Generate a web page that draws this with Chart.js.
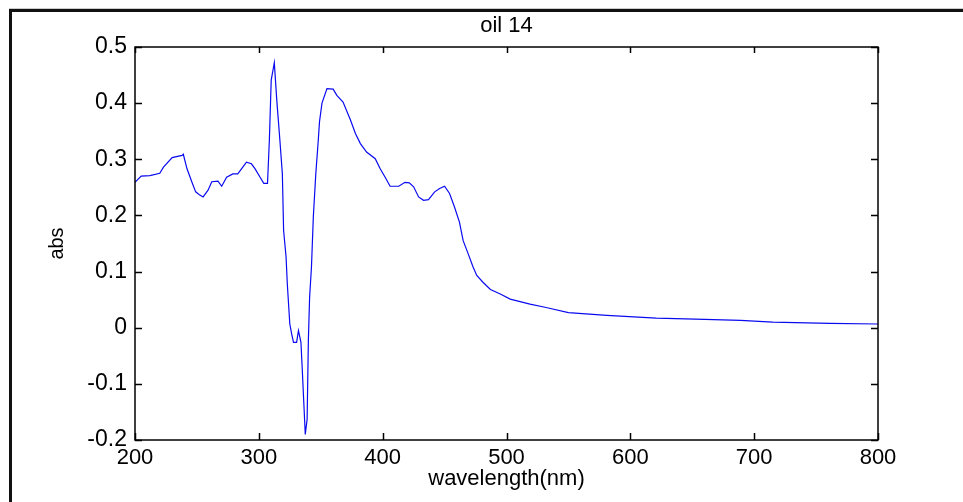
<!DOCTYPE html>
<html>
<head>
<meta charset="utf-8">
<script src="https://cdn.jsdelivr.net/npm/chart.js@4/dist/chart.umd.min.js"></script>
<style>
html,body{margin:0;padding:0;background:#fff;}
#wrap{width:963px;height:502px;position:relative;}
</style>
</head>
<body>
<div id="wrap"><canvas id="c" width="963" height="502"></canvas></div>
<script>
// spectrum
const wavelength=[200,205,212,220,223,230,238,239,242,246,249,252,255,259,262,267,270,274,279,283,286,290,294,297,301,304,307,308.5,310,312.5,314.5,317,319,320,322,323,325,326.5,328,330.5,332,334,335,336.5,337.5,339,340,341,342.5,344,346,348,349,351,355,360,363,368,374,378,382,387,394,398,402,406,413,418,421.5,425,429,433,437,442,446,450,454,458,462,465,469,473,476,481,487,495,503,519,532,550,581,621,660,689,715,761,800];
const absorbance=[0.259,0.27,0.271,0.275,0.286,0.303,0.307,0.309,0.283,0.259,0.242,0.237,0.233,0.245,0.26,0.261,0.252,0.268,0.274,0.274,0.283,0.295,0.292,0.283,0.268,0.257,0.257,0.334,0.441,0.472,0.405,0.334,0.274,0.173,0.126,0.078,0.007,-0.011,-0.026,-0.026,-0.005,-0.026,-0.071,-0.142,-0.19,-0.163,-0.023,0.054,0.108,0.197,0.274,0.334,0.367,0.4,0.426,0.425,0.414,0.402,0.37,0.346,0.328,0.313,0.301,0.283,0.268,0.252,0.252,0.259,0.258,0.251,0.233,0.227,0.228,0.242,0.248,0.252,0.239,0.215,0.188,0.155,0.132,0.108,0.093,0.081,0.068,0.06,0.051,0.042,0.036,0.027,0.022,0.017,0.015,0.013,0.010,0.0077,0.0066];

const xTicks=[200,300,400,500,600,700,800];
const xTickLabels=["200","300","400","500","600","700","800"];
const yTicks=[-0.2,-0.1,0,0.1,0.2,0.3,0.4,0.5];
const yTickLabels=["-0.2","-0.1","0","0.1","0.2","0.3","0.4","0.5"];
const titleText="oil 14";

const FONT="'Liberation Sans', Arial, sans-serif";

// white page, outer frame, title over the plot box, box and inward ticks
const framePlugin={
  id:"frame",
  beforeDraw(chart){
    const ctx=chart.ctx;
    ctx.save();
    ctx.fillStyle="#fff";ctx.fillRect(0,0,chart.width,chart.height);
    ctx.fillStyle="#ccc";ctx.fillRect(9,8,chart.width-9,1);
    ctx.fillStyle="#111";
    ctx.fillRect(9,9,chart.width-9,3);
    ctx.fillRect(9,9,3,chart.height-9);
    ctx.restore();
  },
  afterDraw(chart){
    const {ctx,chartArea:a,scales}=chart;
    ctx.save();
    ctx.fillStyle="#000";
    ctx.font="22px "+FONT;
    ctx.textAlign="center";ctx.textBaseline="middle";
    ctx.fillText(titleText,(a.left+a.right)/2,26);
    ctx.strokeStyle="#000";
    ctx.lineWidth=1.5;
    ctx.strokeRect(a.left,a.top,a.right-a.left,a.bottom-a.top);
    ctx.beginPath();
    xTicks.forEach(v=>{
      const x=Math.round(scales.x.getPixelForValue(v))+0.5;
      ctx.moveTo(x,a.bottom);ctx.lineTo(x,a.bottom-7);
      ctx.moveTo(x,a.top);ctx.lineTo(x,a.top+6);
    });
    yTicks.forEach(v=>{
      const y=Math.round(scales.y.getPixelForValue(v))+0.5;
      ctx.moveTo(a.left,y);ctx.lineTo(a.left+7,y);
      ctx.moveTo(a.right,y);ctx.lineTo(a.right-7,y);
    });
    ctx.stroke();
    ctx.restore();
  }
};

new Chart(document.getElementById("c"),{
  type:"line",
  data:{datasets:[{
    data:wavelength.map((w,i)=>({x:w,y:absorbance[i]})),
    borderColor:"#0a0af0",
    borderWidth:1.2,
    pointRadius:0,
    tension:0,
    fill:false
  }]},
  options:{
    responsive:false,
    animation:false,
    events:[],
    layout:{padding:{left:0,right:85,top:47,bottom:0}},
    plugins:{
      legend:{display:false},
      tooltip:{enabled:false},
      title:{display:false}
    },
    scales:{
      x:{
        type:"linear",min:200,max:800,
        afterBuildTicks(s){s.ticks=xTicks.map(v=>({value:v}));},
        afterFit(s){s.height=62;},
        grid:{display:false,drawTicks:false},
        border:{display:false},
        ticks:{padding:5,color:"#000",font:{family:FONT,size:22},maxRotation:0,
          callback:(v,i)=>xTickLabels[i]},
        title:{display:true,text:"wavelength(nm)",color:"#000",
          font:{family:FONT,size:22,lineHeight:1.2},padding:{top:0,bottom:10}}
      },
      y:{
        type:"linear",min:-0.2,max:0.5,
        afterBuildTicks(s){s.ticks=yTicks.map(v=>({value:v}));},
        afterFit(s){s.width=135;},
        grid:{display:false,drawTicks:false},
        border:{display:false},
        ticks:{padding:8,color:"#000",font:{family:FONT,size:23},
          callback:(v,i)=>yTickLabels[i]},
        title:{display:true,text:"abs",color:"#000",
          font:{family:FONT,size:20,lineHeight:1.2},padding:{top:45,bottom:0}}
      }
    }
  },
  plugins:[framePlugin]
});
</script>
</body>
</html>
